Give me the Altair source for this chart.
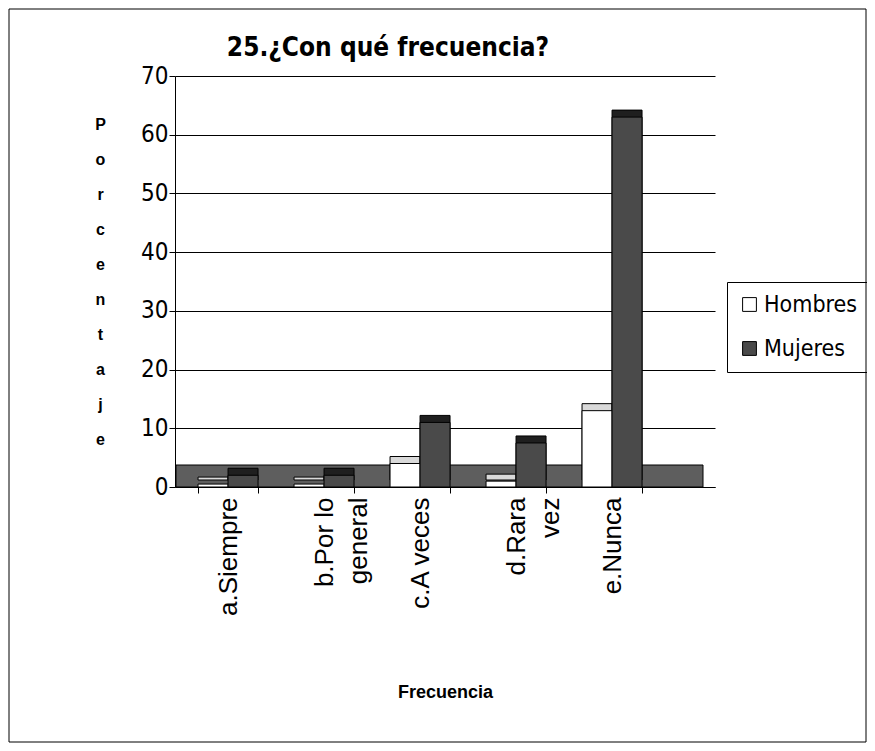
import altair as alt
import pandas as pd

titulo = ["25.¿Con qué frecuencia?"]
categorias = ["a.Siempre", "b.Por lo general", "c.A veces", "d.Rara vez", "e.Nunca"]
series = ["Hombres", "Mujeres"]
hombres = [0.5, 0.5, 4, 1, 13]
mujeres = [2, 2, 11, 7.5, 63]
ticks_y = [0, 10, 20, 30, 40, 50, 60, 70]

rows = []
for c, h, m in zip(categorias, hombres, mujeres):
    rows.append({"categoria": c, "serie": "Hombres", "valor": h})
    rows.append({"categoria": c, "serie": "Mujeres", "valor": m})
df = pd.DataFrame(rows)

W, H = 540, 411
PL, PT, PR, PB = 167, 68, 152, 256
NARROW = "Liberation Sans Narrow, DejaVu Sans Condensed, Arial Narrow, sans-serif"
SANS = "Liberation Sans, Arial, sans-serif"

label_expr = ("datum.label == 'b.Por lo general' ? ['b.Por lo', 'general'] : "
              "datum.label == 'd.Rara vez' ? ['d.Rara', 'vez'] : datum.label")

x_enc = alt.X(
    "categoria:N", sort=categorias,
    scale=alt.Scale(paddingInner=0.375, paddingOuter=0.5, align=0.24),
    axis=alt.Axis(
        title="Frecuencia", labelAngle=-90, labelExpr=label_expr,
        labelFont=SANS, labelFontSize=26, labelColor="black", labelLimit=0,
        labelLineHeight=34, labelPadding=4, tickBand="extent",
        domainColor="black", tickColor="black", tickSize=6,
        titleFont=SANS, titleFontSize=18, titleFontWeight="bold", titleColor="black",
        titleY=196,
    ),
)
y_enc = alt.Y(
    "valor:Q", scale=alt.Scale(domain=[0, 70]),
    axis=alt.Axis(
        values=ticks_y, title=list("Porcentaje"), titleAngle=0,
        titleX=-75, titleY=40, titleAlign="center", titleBaseline="top",
        titleLineHeight=35, titleFont=SANS, titleFontSize=16, titleFontWeight="bold",
        titleColor="black",
        labelFont=NARROW, labelFontSize=24, labelColor="black",
        gridColor="black", gridWidth=1, domainColor="black", tickColor="black",
        tickSize=6, labelPadding=1,
    ),
)
xoff = alt.XOffset("serie:N", sort=series)

floor = alt.Chart(pd.DataFrame({"f": [0]})).mark_rect(fill="#5e5e5e", stroke="black", strokeWidth=1).encode(
    x=alt.value(1), x2=alt.value(W - 12), y=alt.value(H - 22), y2=alt.value(H)
)

shadow = alt.Chart(df).mark_bar(stroke="black", strokeWidth=1, xOffset=7, yOffset=-7).encode(
    x=x_enc, y=y_enc, xOffset=xoff,
    fill=alt.Fill("serie:N", scale=alt.Scale(domain=series, range=["#d9d9d9", "#1f1f1f"]), legend=None),
)

front = alt.Chart(df).mark_bar(stroke="black", strokeWidth=1).encode(
    x=x_enc, y=y_enc, xOffset=xoff,
    color=alt.Color(
        "serie:N", scale=alt.Scale(domain=series, range=["white", "#4a4a4a"]),
        legend=alt.Legend(
            title=None, orient="none", legendX=552, legendY=206,
            strokeColor="black", padding=11, labelFont=NARROW, labelFontSize=23,
            labelColor="black", symbolType="square", symbolSize=190,
            symbolStrokeColor="black", symbolStrokeWidth=1, rowPadding=20,
            labelOffset=3,
        ),
    ),
)

frame = alt.Chart(pd.DataFrame({"f": [0]})).mark_rect(fill=None, stroke="black", strokeWidth=1).encode(
    x=alt.value(-166), x2=alt.value(W + PR - 1), y=alt.value(-67), y2=alt.value(H + PB - 1)
)

title_mark = alt.Chart(pd.DataFrame({"t": titulo})).mark_text(
    font=NARROW, fontSize=26, fontWeight="bold", color="black", align="center", baseline="alphabetic"
).encode(text="t:N", x=alt.value(213), y=alt.value(-20))

chart = alt.layer(frame, floor, shadow, front, title_mark).resolve_scale(fill="independent").properties(
    width=W, height=H,
    autosize=alt.AutoSizeParams(type="none"),
    padding={"left": PL, "top": PT, "right": PR, "bottom": PB},
    background="white",
).configure_view(stroke=None)

chart.save("out.html", embed_options={"renderer": "svg", "actions": False})
